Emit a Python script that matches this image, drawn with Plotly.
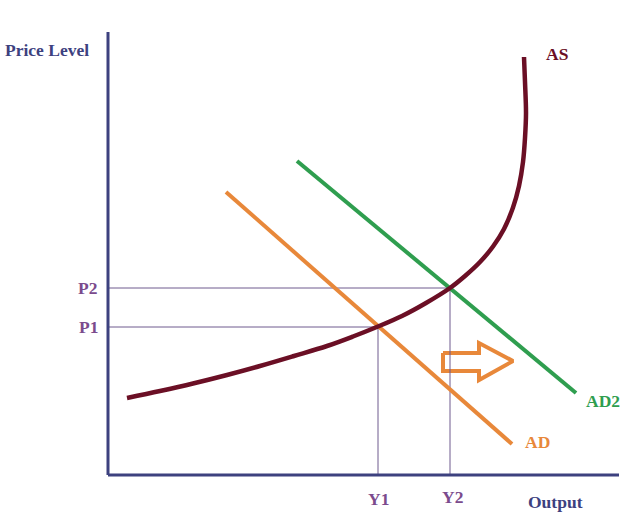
import plotly.graph_objects as go

# Coordinates: output (x) and price level (y) in chart units, origin at axes corner
as_x = [19, 52, 85, 119, 152, 186, 219, 245, 270, 294, 318, 342, 357, 372, 385, 396, 405, 411, 415, 417, 418, 417, 416]
as_y = [77, 84, 91.5, 100, 109, 119, 129, 138.5, 148.5, 159, 172, 187, 199, 213, 228.5, 246, 267.5, 289, 313, 337, 362, 393, 418]

ad_x = [118, 404]
ad_y = [283, 31]

ad2_x = [189, 468]
ad2_y = [314, 82]

y1, y2 = 270, 342
p1, p2 = 148, 187

arrow_x = [335, 371, 371, 405, 371, 371, 335, 335]
arrow_y = [122, 122, 132, 114, 95, 104, 104, 122]

axis_top = 443
axis_right = 511

NAVY = "#3d417f"
PURPLE = "#7b4b8d"
GUIDE = "#6e5a8e"
AS_C = "#6b0f25"
AD_C = "#e8883a"
AD2_C = "#2f9e4f"
FONT = "Liberation Serif"

fig = go.Figure()

# shift arrow
fig.add_trace(go.Scatter(x=arrow_x, y=arrow_y, mode="lines", fill="toself",
                         fillcolor="white", line=dict(color=AD_C, width=4),
                         hoverinfo="skip"))

# guide lines
fig.add_trace(go.Scatter(x=[0, y2, y2], y=[p2, p2, 0], mode="lines",
                         line=dict(color=GUIDE, width=1), hoverinfo="skip"))
fig.add_trace(go.Scatter(x=[0, y1, y1], y=[p1, p1, 0], mode="lines",
                         line=dict(color=GUIDE, width=1), hoverinfo="skip"))

# curves
fig.add_trace(go.Scatter(x=ad_x, y=ad_y, mode="lines",
                         line=dict(color=AD_C, width=4), hoverinfo="skip"))
fig.add_trace(go.Scatter(x=ad2_x, y=ad2_y, mode="lines",
                         line=dict(color=AD2_C, width=4), hoverinfo="skip"))
fig.add_trace(go.Scatter(x=as_x, y=as_y, mode="lines",
                         line=dict(color=AS_C, width=4.5, shape="spline", smoothing=1.0),
                         hoverinfo="skip"))

# axes
fig.add_trace(go.Scatter(x=[0, 0], y=[0, axis_top], mode="lines",
                         line=dict(color=NAVY, width=3), hoverinfo="skip"))
fig.add_trace(go.Scatter(x=[0, axis_right], y=[0, 0], mode="lines",
                         line=dict(color=NAVY, width=3), hoverinfo="skip"))

def lab(x, y, t, c, s=17.5):
    fig.add_annotation(x=x, y=y, text="<b>%s</b>" % t, showarrow=False,
                       font=dict(family=FONT, size=s, color=c),
                       xanchor="center", yanchor="middle")

lab(-61, 425, "Price Level", NAVY, 17.5)
lab(-21, p2, "P2", PURPLE)
lab(-20, p1, "P1", PURPLE)
lab(y1, -24, "Y1", PURPLE)
lab(y2 + 2, -22, "Y2", PURPLE)
lab(447, -27, "Output", NAVY)
lab(449, 421, "AS", AS_C)
lab(495, 74, "AD2", AD2_C)
lab(429, 33, "AD", AD_C)

fig.update_layout(
    width=627, height=516,
    margin=dict(l=0, r=0, t=0, b=0),
    paper_bgcolor="white", plot_bgcolor="white",
    showlegend=False,
    xaxis=dict(range=[-108, 519], visible=False, fixedrange=True),
    yaxis=dict(range=[-41, 475], visible=False, fixedrange=True),
)

fig.write_html("out.html")
